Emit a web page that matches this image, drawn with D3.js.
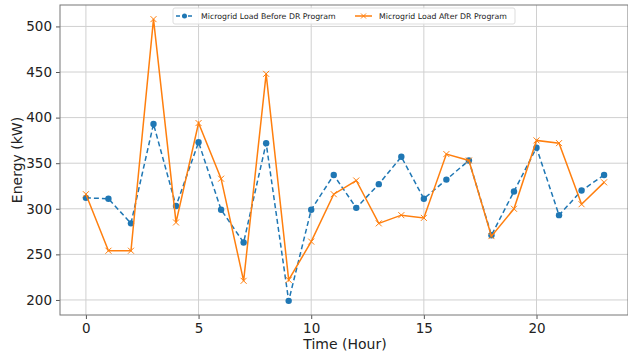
<!DOCTYPE html>
<html>
<head>
<meta charset="utf-8">
<script src="https://cdn.jsdelivr.net/npm/d3@7"></script>
<style>
  body { margin: 0; background: #fff; }
  svg { display: block; font-family: "DejaVu Sans", sans-serif; }
</style>
</head>
<body>
<div id="chart"></div>
<script>
// hours 0..23
const hours = d3.range(0, 24);
const loadBefore = [312, 311, 284, 393, 303, 373, 299, 263, 372, 199, 299, 337,
                    301, 327, 357, 311, 332, 353, 271, 319, 367, 293, 320, 337];
const loadAfter = [316, 254, 254, 508, 285, 394, 333, 221, 448, 222, 264, 316,
                   331, 284, 293, 290, 360, 353, 270, 300, 375, 372, 305, 329];
const xTicks = [0, 5, 10, 15, 20];
const yTicks = [200, 250, 300, 350, 400, 450, 500];
const seriesNames = ['Microgrid Load Before DR Program', 'Microgrid Load After DR Program'];

const W = 628, H = 357;
const margin = { top: 5, right: 0, bottom: 42, left: 60 };
const width = W - margin.left - margin.right;
const height = H - margin.top - margin.bottom;

const svg = d3.select('#chart')
  .append('svg')
  .attr('width', W)
  .attr('height', H);

const g = svg.append('g')
  .attr('transform', `translate(${margin.left},${margin.top})`);

// matplotlib-style 5% margins
const x = d3.scaleLinear().domain([-1.15, 24.15]).range([0, width + 2]);
const y = d3.scaleLinear().domain([183.5, 523.5]).range([height, 0]);

// grid
g.append('g')
  .selectAll('line')
  .data(xTicks)
  .join('line')
  .attr('x1', d => x(d)).attr('x2', d => x(d))
  .attr('y1', 0).attr('y2', height)
  .attr('stroke', '#d0d0d0')
  .attr('stroke-width', 1);

g.append('g')
  .selectAll('line')
  .data(yTicks)
  .join('line')
  .attr('x1', 0).attr('x2', width)
  .attr('y1', d => y(d)).attr('y2', d => y(d))
  .attr('stroke', '#d0d0d0')
  .attr('stroke-width', 1);

// axes
const xAxis = g.append('g')
  .attr('transform', `translate(0,${height})`)
  .call(d3.axisBottom(x).tickValues(xTicks).tickSize(4).tickPadding(4));

const yAxis = g.append('g')
  .call(d3.axisLeft(y).tickValues(yTicks).tickSize(4).tickPadding(4));

[xAxis, yAxis].forEach(a => {
  a.select('.domain').remove();
  a.selectAll('line').attr('stroke', '#555');
  a.selectAll('text').attr('font-size', 13.5).attr('fill', '#222')
    .attr('font-family', '"DejaVu Sans", sans-serif');
});

// frame
g.append('rect')
  .attr('x', 0).attr('y', 0)
  .attr('width', width).attr('height', height)
  .attr('fill', 'none')
  .attr('stroke', '#777')
  .attr('stroke-width', 1);

// axis labels
svg.append('text')
  .attr('x', margin.left + x(11.5))
  .attr('y', 349)
  .attr('text-anchor', 'middle')
  .attr('font-size', 14)
  .attr('fill', '#222')
  .text('Time (Hour)');

svg.append('text')
  .attr('transform', 'rotate(-90)')
  .attr('x', -(margin.top + height / 2))
  .attr('y', 22)
  .attr('text-anchor', 'middle')
  .attr('font-size', 14)
  .attr('fill', '#222')
  .text('Energy (kW)');

const blue = '#1f77b4', orange = '#ff7f0e';

const line = d3.line()
  .x((d, i) => x(hours[i]))
  .y(d => y(d));

g.append('path')
  .datum(loadBefore)
  .attr('d', line)
  .attr('fill', 'none')
  .attr('stroke', blue)
  .attr('stroke-width', 1.5)
  .attr('stroke-dasharray', '5,3');

g.append('g')
  .selectAll('circle')
  .data(loadBefore)
  .join('circle')
  .attr('cx', (d, i) => x(hours[i]))
  .attr('cy', d => y(d))
  .attr('r', 3.2)
  .attr('fill', blue);

g.append('path')
  .datum(loadAfter)
  .attr('d', line)
  .attr('fill', 'none')
  .attr('stroke', orange)
  .attr('stroke-width', 1.5);

const xm = 3;
g.append('g')
  .selectAll('path')
  .data(loadAfter)
  .join('path')
  .attr('d', (d, i) => {
    const cx = x(hours[i]), cy = y(d);
    return `M${cx - xm},${cy - xm}L${cx + xm},${cy + xm}M${cx - xm},${cy + xm}L${cx + xm},${cy - xm}`;
  })
  .attr('stroke', orange)
  .attr('stroke-width', 1);

// legend
const lg = svg.append('g').attr('transform', 'translate(173,8)');
lg.append('rect')
  .attr('width', 342).attr('height', 16)
  .attr('rx', 2)
  .attr('fill', '#fff').attr('fill-opacity', 0.85)
  .attr('stroke', '#ddd');

const items = [
  { name: seriesNames[0], color: blue, dash: '4,2', marker: 'o', x0: 3, tx: 28 },
  { name: seriesNames[1], color: orange, dash: null, marker: 'x', x0: 182, tx: 206 }
];
items.forEach(it => {
  const ig = lg.append('g');
  ig.append('line')
    .attr('x1', it.x0).attr('x2', it.x0 + 17)
    .attr('y1', 8).attr('y2', 8)
    .attr('stroke', it.color).attr('stroke-width', 1.5)
    .attr('stroke-dasharray', it.dash);
  const mx = it.x0 + 8.5;
  if (it.marker === 'o') {
    ig.append('circle').attr('cx', mx).attr('cy', 8).attr('r', 2.5).attr('fill', it.color);
  } else {
    ig.append('path')
      .attr('d', `M${mx - 2.5},5.5L${mx + 2.5},10.5M${mx - 2.5},10.5L${mx + 2.5},5.5`)
      .attr('stroke', it.color).attr('stroke-width', 1);
  }
  ig.append('text')
    .attr('x', it.tx).attr('y', 11)
    .attr('font-size', 7.8)
    .attr('fill', '#222')
    .text(it.name);
});
</script>
</body>
</html>
